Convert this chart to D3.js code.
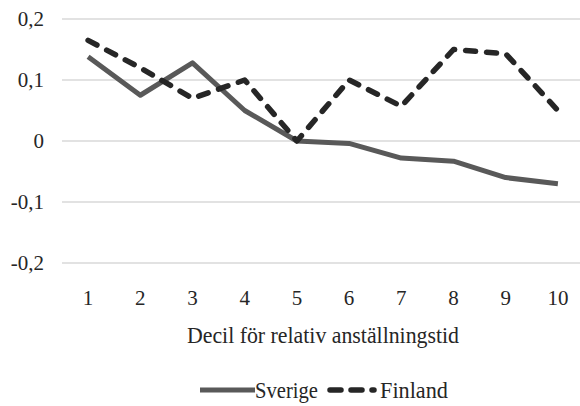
<!DOCTYPE html>
<html><head><meta charset="utf-8">
<script src="https://cdn.jsdelivr.net/npm/d3@7"></script>
<style>body{margin:0;background:#fff}svg{display:block}</style>
</head><body>
<svg id="c" width="580" height="406"></svg>
<script>
const categories = ["1","2","3","4","5","6","7","8","9","10"];
const sverige = [0.138,0.075,0.128,0.05,0.0,-0.004,-0.028,-0.033,-0.06,-0.07];
const finland = [0.165,0.12,0.07,0.1,0.0,0.1,0.057,0.15,0.143,0.05];
const yTicks = [0.2,0.1,0,-0.1,-0.2];
const yTickLabels = ["0,2","0,1","0","-0,1","-0,2"];
const xTitle = "Decil för relativ anställningstid";
const seriesNames = ["Sverige","Finland"];

const FONT = "'Liberation Serif', 'DejaVu Serif', serif";
const TXT = "#262626";
const svg = d3.select("#c");
const x = d3.scaleBand().domain(categories).range([62,584]);
const y = d3.scaleLinear().domain([-0.2,0.2]).range([263,19]);

svg.append("g").selectAll("line").data(yTicks).join("line")
  .attr("x1",62).attr("x2",580).attr("y1",d=>y(d)).attr("y2",d=>y(d))
  .attr("stroke","#d9d9d9").attr("stroke-width",1.5);

const yAxis = d3.axisLeft(y).tickValues(yTicks).tickSize(0).tickPadding(0)
  .tickFormat((d,i)=>yTickLabels[i]);
const gy = svg.append("g").attr("transform","translate(44,0)").call(yAxis)
  .attr("font-family",FONT).attr("font-size",21);
gy.select(".domain").remove();
gy.selectAll("text").style("font-family",FONT).attr("fill",TXT).attr("dy","0.32em");

const xAxis = d3.axisBottom(x).tickSize(0).tickPadding(0);
const gx = svg.append("g").attr("transform","translate(0,305)").call(xAxis)
  .attr("font-family",FONT).attr("font-size",21);
gx.select(".domain").remove();
gx.selectAll("text").style("font-family",FONT).attr("fill",TXT).attr("y",0).attr("dy",0);

const cx = (x.range()[0]+x.range()[1])/2;
svg.append("text").attr("x",cx).attr("y",343).attr("text-anchor","middle")
  .style("font-family",FONT).attr("font-size",24).attr("fill",TXT)
  .attr("textLength",272).attr("lengthAdjust","spacingAndGlyphs").text(xTitle);

const line = d3.line().x((d,i)=>x(categories[i])+x.bandwidth()/2).y(d=>y(d));
svg.append("path").datum(sverige).attr("d",line).attr("fill","none")
  .attr("stroke","#595959").attr("stroke-width",5).attr("stroke-linejoin","round");
svg.append("path").datum(finland).attr("d",line).attr("fill","none")
  .attr("stroke","#262626").attr("stroke-width",5.5).attr("stroke-dasharray","10,11")
  .attr("stroke-linecap","round").attr("stroke-linejoin","round");

const lg = svg.append("g");
lg.append("line").attr("x1",200).attr("x2",255).attr("y1",390).attr("y2",390)
  .attr("stroke","#595959").attr("stroke-width",5);
lg.append("text").attr("x",255).attr("y",398).style("font-family",FONT).attr("font-size",23).attr("fill",TXT)
  .attr("textLength",63).attr("lengthAdjust","spacingAndGlyphs").text(seriesNames[0]);
lg.append("line").attr("x1",330).attr("x2",374).attr("y1",390).attr("y2",390)
  .attr("stroke","#262626").attr("stroke-width",5.5).attr("stroke-dasharray","11,10").attr("stroke-linecap","round");
lg.append("text").attr("x",380).attr("y",398).style("font-family",FONT).attr("font-size",23).attr("fill",TXT)
  .attr("textLength",68).attr("lengthAdjust","spacingAndGlyphs").text(seriesNames[1]);
</script>
</body></html>
